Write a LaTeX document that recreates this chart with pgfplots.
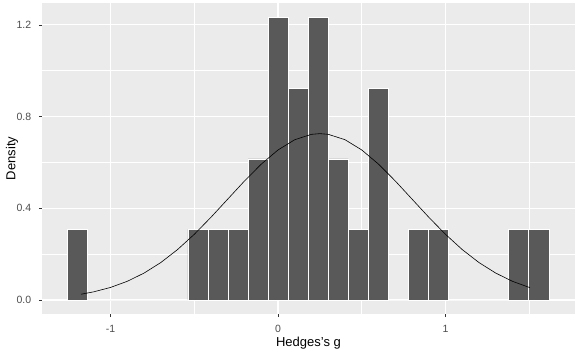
\documentclass[border=0pt]{standalone}
\usepackage{pgfplots}
\pgfplotsset{compat=1.18}
\usepackage{fontspec}
\setmainfont{Liberation Sans}
\definecolor{panel}{HTML}{EBEBEB}
\definecolor{barfill}{HTML}{595959}
\definecolor{ticklab}{HTML}{4D4D4D}
\definecolor{tickmark}{HTML}{333333}
\newcommand{\tlf}{\fontsize{10.5bp}{12bp}\selectfont}
\newcommand{\alf}{\fontsize{13bp}{15bp}\selectfont}
\begin{document}
\begin{tikzpicture}
\path[use as bounding box] (0,0) rectangle (576bp,353bp);
\begin{axis}[
  at={(42bp,39bp)}, anchor=south west,
  scale only axis, width=533bp, height=311bp,
  xmin=-1.409, xmax=1.773, ymin=-0.061, ymax=1.295,
  axis background/.style={fill=panel},
  axis line style={draw=none},
  /pgf/number format/assume math mode=true,
  xtick={-1,0,1}, xticklabels={-1,0,1},
  ytick={0,0.4,0.8,1.2}, yticklabels={0.0,0.4,0.8,1.2},
  minor xtick={-0.5,0.5,1.5}, minor ytick={0.2,0.6,1.0},
  grid=both,
  major grid style={white, line width=1.1bp},
  minor grid style={white, line width=0.55bp},
  tick align=outside, major tick length=3bp, minor tick length=0pt,
  tick style={tickmark, line width=0.55bp},
  xtick pos=bottom, ytick pos=left,
  tick label style={font=\tlf},
  xticklabel style={text=ticklab, inner sep=0pt, anchor=base, yshift=-15.3bp},
  yticklabel style={text=ticklab, inner sep=0pt, anchor=east, xshift=-7.7bp},
  xlabel={\alf Hedges's g}, ylabel={\alf Density},
  every axis x label/.style={at={(axis description cs:0.5,0)}, anchor=base, yshift=-32.7bp, inner sep=0pt},
  every axis y label/.style={at={(axis description cs:-0.0563,0.5)}, anchor=center, rotate=90, inner sep=0pt},
]
\addplot[ybar interval, fill=barfill, draw=white, line width=0.6bp, mark=none] coordinates {
(-1.256,0.3077) (-1.136,0) (-1.017,0) (-0.897,0) (-0.777,0) (-0.658,0)
(-0.538,0.3077) (-0.418,0.3077) (-0.298,0.3077) (-0.179,0.6154)
(-0.059,1.2308) (0.061,0.9231) (0.180,1.2308) (0.300,0.6154)
(0.420,0.3077) (0.540,0.9231) (0.659,0) (0.779,0.3077) (0.899,0.3077)
(1.018,0) (1.138,0) (1.258,0) (1.377,0.3077) (1.497,0.3077) (1.617,0)
};
\addplot[black, line width=0.6bp, mark=none] coordinates {
(-1.176,0.0252) (-1.1,0.0357) (-1.0,0.0548) (-0.9,0.0815) (-0.8,0.1173)
(-0.7,0.1632) (-0.6,0.2198) (-0.5,0.2863) (-0.4,0.3609) (-0.3,0.4400)
(-0.2,0.5191) (-0.1,0.5924) (0.0,0.6542) (0.1,0.6989) (0.2,0.7224)
(0.25,0.7254) (0.3,0.7224) (0.4,0.6989) (0.5,0.6542) (0.6,0.5924)
(0.7,0.5191) (0.8,0.4400) (0.9,0.3609) (1.0,0.2863) (1.1,0.2198)
(1.2,0.1632) (1.3,0.1173) (1.4,0.0815) (1.504,0.0539)
};
\end{axis}
\end{tikzpicture}
\end{document}
